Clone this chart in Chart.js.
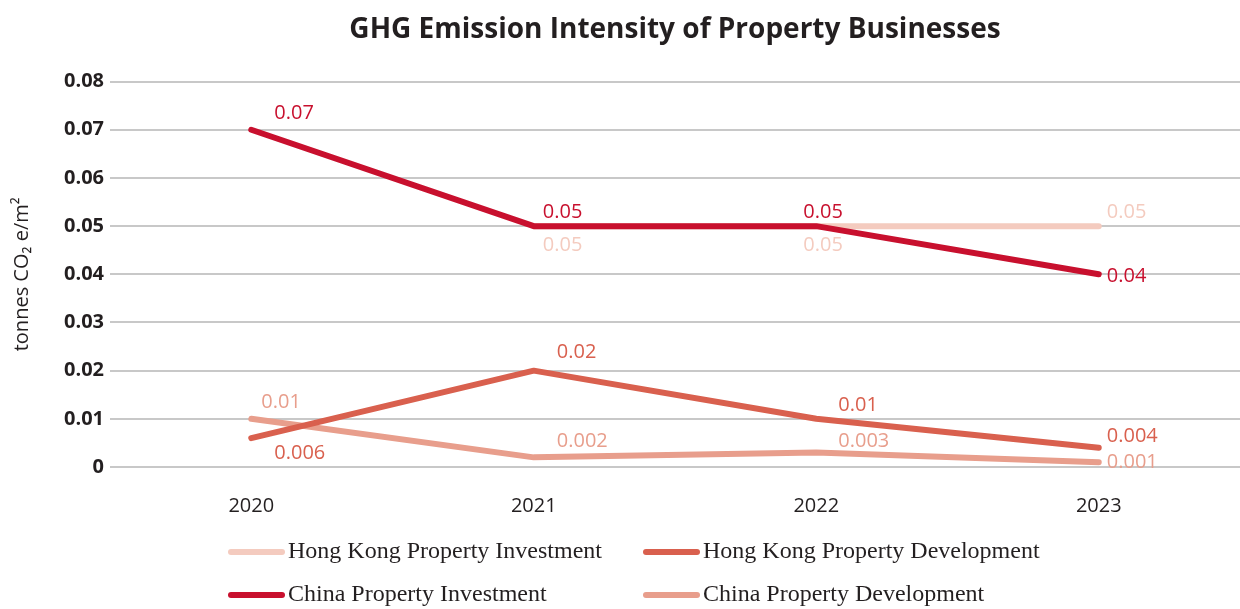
<!DOCTYPE html>
<html>
<head>
<meta charset="utf-8">
<script src="https://cdn.jsdelivr.net/npm/chart.js@4/dist/chart.umd.min.js"></script>
<style>
  html, body { margin: 0; padding: 0; background: #fff; }
  canvas { display: block; }
</style>
</head>
<body>
<canvas id="myChart" width="1240" height="609"></canvas>
<script>
var years = ['2020', '2021', '2022', '2023'];
var hkInvestment = [null, 0.05, 0.05, 0.05];
var hkDevelopment = [0.006, 0.02, 0.01, 0.004];
var cnInvestment = [0.07, 0.05, 0.05, 0.04];
var cnDevelopment = [0.01, 0.002, 0.003, 0.001];
var yMin = 0, yMax = 0.08, yStep = 0.01;

var textColor = '#231f20';
var sans = '"Open Sans", "Noto Sans", sans-serif';
var serif = '"Liberation Serif", "DejaVu Serif", serif';

// labels next to each point, offsets
var valueLabels = {
    id: 'valueLabels',
    afterDatasetsDraw: function(chart) {
        var ctx = chart.ctx;
        ctx.save();
        ctx.font = '20px ' + sans;
        ctx.textAlign = 'left';
        ctx.textBaseline = 'middle';
        chart.data.datasets.forEach(function(ds, i) {
            var meta = chart.getDatasetMeta(i);
            ctx.fillStyle = ds.borderColor;
            meta.data.forEach(function(pt, j) {
                var v = ds.data[j];
                if (v === null) return;
                var off = ds.labelOffsets[j];
                ctx.fillText(String(v), pt.x + off[0], pt.y + off[1]);
            });
        });
        ctx.restore();
    }
};

// two-column legend under the chart
var gridLegend = {
    id: 'gridLegend',
    afterDraw: function(chart) {
        var ctx = chart.ctx;
        var cols = [228, 643];
        var rows = [552, 595];
        ctx.save();
        ctx.font = '24px ' + serif;
        ctx.textBaseline = 'middle';
        ctx.textAlign = 'left';
        chart.data.datasets.forEach(function(ds, i) {
            var x = cols[i % 2], y = rows[Math.floor(i / 2)];
            ctx.strokeStyle = ds.borderColor;
            ctx.lineWidth = 6;
            ctx.lineCap = 'round';
            ctx.beginPath();
            ctx.moveTo(x + 3, y);
            ctx.lineTo(x + 54, y);
            ctx.stroke();
            ctx.fillStyle = textColor;
            ctx.fillText(ds.label, x + 60, y);
        });
        ctx.restore();
    }
};

function line(label, data, color, order, offsets) {
    return {
        label: label,
        data: data,
        borderColor: color,
        backgroundColor: color,
        borderWidth: 6,
        borderCapStyle: 'round',
        borderJoinStyle: 'round',
        pointRadius: 0,
        tension: 0,
        order: order,
        labelOffsets: offsets
    };
}

var ctx = document.getElementById('myChart');
var myChart = new Chart(ctx, {
    type: 'line',
    data: {
        labels: years,
        datasets: [
            line('Hong Kong Property Investment', hkInvestment, '#f4cbbf', 3,
                [[0, 0], [9, 19], [-13, 19], [8, -14]]),
            line('Hong Kong Property Development', hkDevelopment, '#d9604e', 1,
                [[23, 15], [23, -18], [22, -14], [8, -11]]),
            line('China Property Investment', cnInvestment, '#c8102e', 0,
                [[23, -16], [9, -14], [-13, -14], [8, 2]]),
            line('China Property Development', cnDevelopment, '#e89e8c', 2,
                [[10, -17], [23, -16], [22, -11], [8, 0]])
        ]
    },
    options: {
        responsive: false,
        animation: false,
        layout: { padding: { left: 0, right: 0, top: 0, bottom: 90 } },
        plugins: {
            legend: { display: false },
            tooltip: { enabled: false },
            title: {
                display: true,
                text: 'GHG Emission Intensity of Property Businesses',
                color: textColor,
                fullSize: false,
                font: { family: sans, size: 28, weight: 'bold' },
                padding: { top: 13, bottom: 35 }
            }
        },
        scales: {
            x: {
                offset: true,
                grid: { display: false },
                border: { display: false },
                ticks: { color: textColor, font: { family: sans, size: 20 }, padding: 19 },
                afterFit: function(scale) { scale.height = 52; }
            },
            y: {
                min: yMin,
                max: yMax,
                grid: { color: '#c8c8c8', lineWidth: 2, drawTicks: false },
                border: { display: false },
                ticks: {
                    stepSize: yStep,
                    color: textColor,
                    padding: 6,
                    font: { family: sans, size: 20, weight: 'bold' }
                },
                title: {
                    display: true,
                    text: 'tonnes CO₂ e/m²',
                    color: textColor,
                    font: { family: sans, size: 20 },
                    padding: { top: 10, bottom: 0 }
                },
                afterFit: function(scale) { scale.width = 110; }
            }
        }
    },
    plugins: [valueLabels, gridLegend]
});
</script>
</body>
</html>
